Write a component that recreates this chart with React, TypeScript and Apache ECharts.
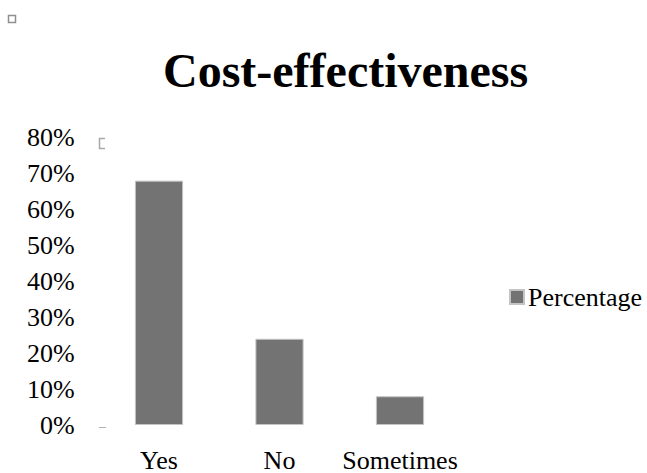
import React, { useEffect, useRef } from "react";
import * as echarts from "echarts";

const categories = ["Yes", "No", "Sometimes"];
const percentageValues = [0.68, 0.24, 0.08];
const seriesName = "Percentage";
const titleText = "Cost-effectiveness";

const FONT = "'Liberation Serif', 'Times New Roman', serif";

export default function App() {
  const ref = useRef<HTMLDivElement>(null);
  useEffect(() => {
    if (!ref.current) return;
    const chart = echarts.init(ref.current, null, { renderer: "svg" });
    chart.setOption({
      animation: false,
      backgroundColor: "#ffffff",
      title: {
        text: titleText,
        left: 163,
        top: 46,
        padding: 0,
        textStyle: {
          fontFamily: FONT,
          fontSize: 48,
          fontWeight: "bold",
          color: "#000000",
          lineHeight: 48,
        },
      },
      legend: {
        data: [seriesName],
        left: 509,
        top: 284,
        padding: 0,
        itemWidth: 14,
        itemHeight: 14,
        itemGap: 6,
        icon: "rect",
        textStyle: {
          fontFamily: FONT,
          fontSize: 26,
          color: "#000000",
          lineHeight: 26,
          padding: [0, 0, 0, -1],
        },
      },
      grid: {
        left: 98.75,
        right: 186.75,
        top: 137.5,
        bottom: 45.5,
        containLabel: false,
      },
      xAxis: {
        type: "category",
        data: categories,
        axisLine: { show: false },
        axisTick: { show: false },
        axisLabel: {
          interval: 0,
          hideOverlap: false,
          fontFamily: FONT,
          fontSize: 26,
          color: "#000000",
          margin: 22,
          lineHeight: 26,
        },
      },
      yAxis: {
        type: "value",
        min: 0,
        max: 0.8,
        interval: 0.1,
        splitLine: { show: false },
        axisLine: { show: false },
        axisTick: { show: false },
        axisLabel: {
          fontFamily: FONT,
          fontSize: 26,
          color: "#000000",
          margin: 24,
          lineHeight: 26,
          padding: [5, 0, 0, 0],
          formatter: (v: number) => `${Math.round(v * 100)}%`,
        },
      },
      series: [
        {
          name: seriesName,
          type: "bar",
          data: percentageValues,
          barCategoryGap: "60%",
          itemStyle: {
            color: "#737373",
            borderColor: "#c4c4c4",
            borderWidth: 1,
          },
        },
      ],
      graphic: [
        {
          type: "rect",
          shape: { x: 8.5, y: 15.5, width: 7, height: 7 },
          style: { fill: "#ffffff", stroke: "#8f8f8f", lineWidth: 1.5 },
        },
        {
          type: "polyline",
          shape: {
            points: [
              [105, 138.5],
              [99.5, 138.5],
              [99.5, 148.5],
              [105, 148.5],
            ],
          },
          style: { fill: "none", stroke: "#a8a8a8", lineWidth: 1.5 },
        },
        {
          type: "line",
          shape: { x1: 99, y1: 427.5, x2: 106, y2: 427.5 },
          style: { stroke: "#b0b0b0", lineWidth: 1 },
        },
      ],
    });
    return () => chart.dispose();
  }, []);
  return <div ref={ref} style={{ width: 647, height: 473, position: "absolute", left: 0, top: 0 }} />;
}
